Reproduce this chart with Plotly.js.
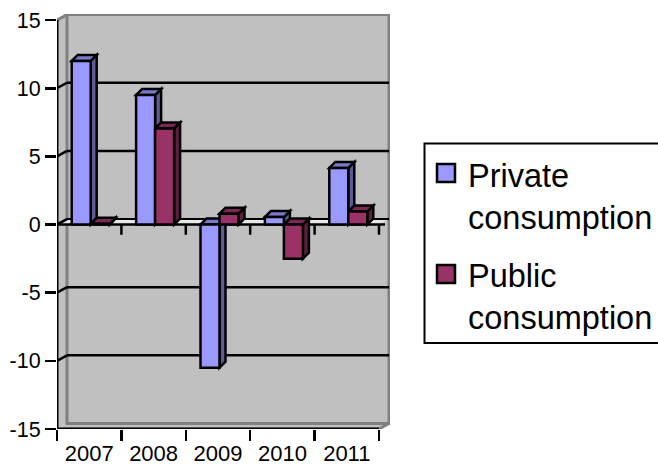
<!DOCTYPE html>
<html><head><meta charset="utf-8">
<script src="https://cdn.plot.ly/plotly-3.0.1.min.js"></script>
<style>html,body{margin:0;padding:0;background:#fff;overflow:hidden}</style>
</head><body><div id="chart" style="width:658px;height:465px"></div>
<script>
const years = ['2007','2008','2009','2010','2011'];
const privateConsumption = [12, 9.5, -10.5, 0.55, 4.15];
const publicConsumption = [0.05, 7.05, 0.8, -2.5, 0.95];
const yTicks = [-15,-10,-5,0,5,10,15];
const gridValues = [-10,-5,5,10];
const legendNames = ['Private<br>consumption','Public<br>consumption'];

const PRIV='#9999FF', PUB='#993366', PRIV_SIDE='#5C5C99', PUB_SIDE='#5C1F3D', PRIV_TOP='#7A7ACC', PUB_TOP='#7A2952';
const FONT='"Liberation Sans", Arial, sans-serif';
const L=57,R=390,T=14,B=429;
const catPx=64.4, unitPx=13.63;
const xMin=-0.5, xMax=4.5, yMin=-15, yMax=15;
const wallDx=10/catPx, wallDy=5.5/unitPx;
const barDx=6/catPx, barDy=6/unitPx;
const barW=19/catPx, off1=-17.5/catPx, off2=1.5/catPx;
const px=x=>(x-L)/(R-L), py=y=>(B-y)/(B-T);

const poly=(pts,fill,lw,lc,layer)=>({type:'path',xref:'x',yref:'y',layer:layer||'below',
  path:'M'+pts.map(p=>p[0]+','+p[1]).join(' L')+' Z',fillcolor:fill,line:{color:lc||'#000',width:lw==null?2.5:lw}});
const seg=(x0,y0,x1,y1,c,w,layer)=>({type:'line',xref:'x',yref:'y',x0,y0,x1,y1,layer:layer||'below',line:{color:c||'#000',width:w||2.5}});

const shapes=[];
// walls
shapes.push(poly([[xMin,yMin],[xMin+wallDx,yMin+wallDy],[xMin+wallDx,yMax+wallDy],[xMin,yMax]],'#C0C0C0',0,'#808080'));
shapes.push(poly([[xMin,yMin],[xMax,yMin],[xMax+wallDx,yMin+wallDy],[xMin+wallDx,yMin+wallDy]],'#C0C0C0',0,'#808080'));
shapes.push(poly([[xMin+wallDx,yMin+wallDy],[xMax+wallDx,yMin+wallDy],[xMax+wallDx,yMax+wallDy],[xMin+wallDx,yMax+wallDy]],'#C0C0C0',3,'#808080'));
shapes.push(seg(xMin,yMax,xMin+wallDx,yMax+wallDy,'#808080',3));
shapes.push(seg(xMin,yMin,xMax,yMin,'#808080',3));
shapes.push(seg(xMax,yMin,xMax+wallDx,yMin+wallDy,'#808080',3));
// grid
gridValues.forEach(v=>{
  shapes.push(seg(xMin,v,xMin+wallDx,v+wallDy));
  shapes.push(seg(xMin+wallDx,v+wallDy,xMax+wallDx,v+wallDy));
});
// zero plane
shapes.push(poly([[xMin,0],[xMax,0],[xMax+wallDx,wallDy],[xMin+wallDx,wallDy]],'#E8E8E8',0));
shapes.push(seg(xMin,0,xMin+wallDx,wallDy));
shapes.push(seg(xMin+wallDx,wallDy,xMax+wallDx,wallDy,'#000',2));
shapes.push(seg(xMin,0,xMax+wallDx*0.6,0,'#000',2.5));
// bar depth faces
function faces(vals,off,side,top){
  vals.forEach((v,i)=>{
    const a=i+off,b=a+barW,hi=Math.max(v,0),lo=Math.min(v,0);
    shapes.push(poly([[b,lo],[b+barDx,lo+barDy],[b+barDx,hi+barDy],[b,hi]],side));
    shapes.push(poly([[a,hi],[b,hi],[b+barDx,hi+barDy],[a+barDx,hi+barDy]],top));
  });
}
faces(privateConsumption,off1,PRIV_SIDE,PRIV_TOP);
faces(publicConsumption,off2,PUB_SIDE,PUB_TOP);
// ticks on the zero line
for(let i=0;i<years.length;i++){ shapes.push(seg(i+0.5,0,i+0.5,-0.75,'#000',2.5,'above')); }
// axis lines
shapes.push(seg(xMin,yMin,xMin,yMax,'#000',3,'above'));
shapes.push(seg(xMin,yMin,xMax,yMin,'#000',3,'above'));
// legend box and swatches
shapes.push({type:'rect',xref:'paper',yref:'paper',x0:px(424.5),x1:px(670),y0:py(343),y1:py(143.5),fillcolor:'#fff',line:{color:'#000',width:2}});
shapes.push({type:'rect',xref:'paper',yref:'paper',x0:px(437),x1:px(455),y0:py(182),y1:py(164),fillcolor:PRIV,line:{color:'#000',width:2.5}});
shapes.push({type:'rect',xref:'paper',yref:'paper',x0:px(437),x1:px(455),y0:py(283),y1:py(265),fillcolor:PUB,line:{color:'#000',width:2.5}});

const annotations=legendNames.map((t,i)=>({xref:'paper',yref:'paper',x:px(466),y:py(i?297:196.5),xanchor:'left',yanchor:'middle',align:'left',
  text:t,showarrow:false,font:{family:FONT,size:32.5,color:'#000'}}));

const bar=(name,y,offset,color)=>({type:'bar',name,x:years,y,width:barW,offset,
  marker:{color,line:{color:'#000',width:2.5}},cliponaxis:false,hoverinfo:'x+y'});

Plotly.newPlot('chart',[bar('Private consumption',privateConsumption,off1,PRIV),bar('Public consumption',publicConsumption,off2,PUB)],{
  width:658,height:465,showlegend:false,paper_bgcolor:'#fff',plot_bgcolor:'rgba(0,0,0,0)',
  margin:{l:L,r:658-R,t:T,b:465-B,pad:0},barmode:'overlay',
  font:{family:FONT,size:21.5,color:'#000'},
  xaxis:{type:'category',categoryorder:'array',categoryarray:years,range:[xMin,xMax+(R-L-5*catPx)/catPx],
    tickson:'boundaries',ticks:'outside',ticklen:11,tickwidth:2.5,tickcolor:'#000',showgrid:false,zeroline:false,showline:false,
    ticklabelstandoff:9,tickfont:{family:FONT,size:22,color:'#000'},automargin:false},
  yaxis:{range:[yMin,yMin+(B-T)/unitPx],tickmode:'array',tickvals:yTicks,ticktext:yTicks.map(String),
    ticks:'outside',ticklen:11,tickwidth:2.5,tickcolor:'#000',showgrid:false,zeroline:false,showline:false,
    tickfont:{family:FONT,size:21.5,color:'#000'},automargin:false},
  shapes,annotations
},{displayModeBar:false,staticPlot:true});
</script></body></html>
